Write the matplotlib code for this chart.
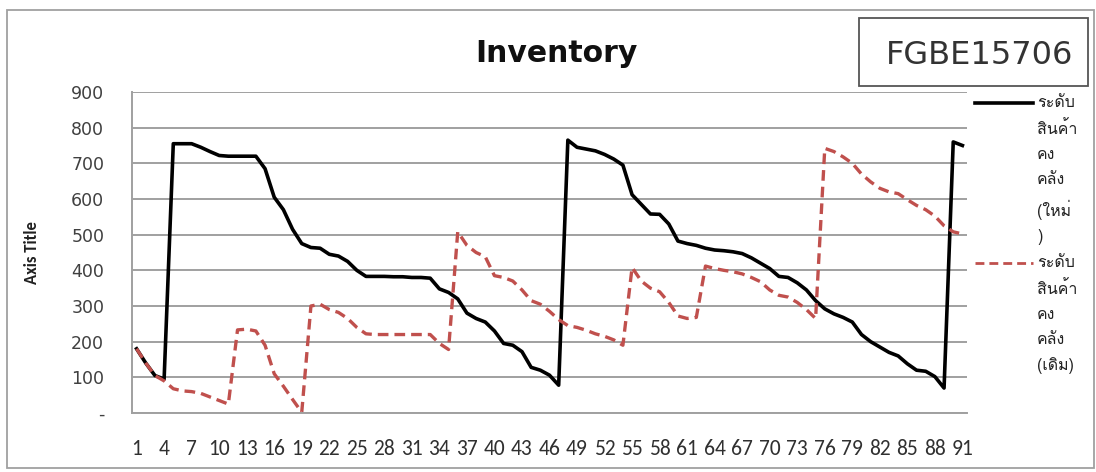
import matplotlib
matplotlib.use("Agg")
import matplotlib.pyplot as plt
from matplotlib import font_manager
from matplotlib.ft2font import FT2Font
from matplotlib.lines import Line2D
from matplotlib.patches import Rectangle

periods = list(range(1, 92))
new_level = [180, 140, 105, 95, 755, 755, 755, 745, 733, 722,
             720, 720, 720, 720, 685, 605, 570, 515, 475, 464,
             462, 445, 440, 425, 400, 383, 383, 383, 382, 382,
             380, 380, 378, 348, 338, 320, 280, 265, 255, 230,
             195, 190, 172, 128, 120, 106, 78, 765, 745, 740,
             735, 725, 712, 695, 612, 585, 558, 557, 530, 482,
             475, 470, 462, 457, 455, 452, 447, 435, 420, 405,
             383, 380, 365, 345, 315, 292, 278, 268, 255, 220,
             200, 185, 170, 160, 138, 120, 117, 102, 70, 760,
             750]
old_level = [180, 140, 105, 90, 68, 62, 60, 55, 45, 35,
             25, 233, 235, 230, 190, 110, 75, 38, 2, 300,
             305, 290, 282, 265, 240, 222, 220, 220, 220, 220,
             220, 220, 220, 195, 178, 508, 470, 450, 438, 385,
             380, 370, 345, 315, 305, 285, 262, 245, 240, 232,
             222, 215, 205, 190, 408, 370, 350, 340, 310, 272,
             265, 268, 412, 405, 400, 396, 390, 380, 368, 345,
             330, 325, 310, 290, 265, 742, 733, 718, 700, 670,
             648, 630, 620, 615, 598, 582, 570, 552, 525, 508,
             502]
x_ticks = list(range(1, 92, 3))
y_ticks = [0, 100, 200, 300, 400, 500, 600, 700, 800, 900]
y_tick_labels = ["-"] + [str(v) for v in y_ticks[1:]]
legend_new = "ระดับ\nสินค้า\nคง\nคลัง\n(ใหม่\n)"
legend_old = "ระดับ\nสินค้า\nคง\nคลัง\n(เดิม)"

# pick a font that has Thai glyphs
thai_fonts = set()
for f in font_manager.fontManager.ttflist:
    try:
        if ord("ร") in FT2Font(f.fname).get_charmap():
            thai_fonts.add(f.name)
    except Exception:
        pass
thai_pick = [n for n in ["Tahoma", "Loma", "Garuda", "Sarabun", "Noto Sans Thai"] if n in thai_fonts]
thai_pick = (thai_pick or sorted(thai_fonts))[:1]
thai_family = thai_pick + ["DejaVu Sans"]

all_names = {f.name for f in font_manager.fontManager.ttflist}
narrow_opts = ["Carlito", "Liberation Sans Narrow", "Roboto Condensed"]
narrow = [n for n in narrow_opts if n in all_names][:1] + ["DejaVu Sans"]

red = "#c0504d"

fig = plt.figure(figsize=(10.96, 4.72), dpi=100)
ax = fig.add_axes([132 / 1096, 1 - 413 / 472, 835 / 1096, 321 / 472])

ax.plot(periods, new_level, color="black", lw=2.6, solid_joinstyle="round")
ax.plot(periods, old_level, color=red, lw=2.4, dashes=(3.2, 1.8))

ax.set_xlim(0.5, 91.5)
ax.set_ylim(0, 900)
ax.set_yticks(y_ticks)
ax.set_yticklabels(y_tick_labels, fontsize=12.5, color="#404040")
ax.set_xticks(x_ticks)
ax.set_xticklabels([str(v) for v in x_ticks], fontsize=15.5, family=narrow, color="#303030")
ax.tick_params(axis="y", length=0, pad=20)
ax.tick_params(axis="x", length=0, pad=19)
ax.grid(axis="y", color="#a0a0a0", lw=1.4)
ax.set_axisbelow(True)
for side in ["top", "right"]:
    ax.spines[side].set_visible(False)
for side in ["left", "bottom"]:
    ax.spines[side].set_color("#a0a0a0")
    ax.spines[side].set_linewidth(1.4)

fig.text(556 / 1096, 1 - 53 / 472, "Inventory", fontsize=21.5, fontweight="bold",
         ha="center", va="center", color="#101010")
fig.text(32 / 1096, 1 - 253 / 472, "Axis Title", fontsize=12, fontweight="bold",
         family=narrow, rotation=90, ha="center", va="center", color="#202020")

# chart border and the code box
fig.add_artist(Rectangle((7 / 1096, 1 - 468 / 472), 1087 / 1096, 458 / 472,
                         transform=fig.transFigure, fill=False, ec="#a0a0a0", lw=1.3))
fig.add_artist(Rectangle((859 / 1096, 1 - 86 / 472), 229 / 1096, 68 / 472,
                         transform=fig.transFigure, fc="white", ec="#555555", lw=1.3))
fig.text(980 / 1096, 1 - 55 / 472, "FGBE15706", fontsize=23, ha="center", va="center",
         color="#333333")

# legend
fig.add_artist(Line2D([975 / 1096, 1033 / 1096], [1 - 103 / 472] * 2,
                      transform=fig.transFigure, color="black", lw=2.6))
fig.add_artist(Line2D([975 / 1096, 1033 / 1096], [1 - 263 / 472] * 2,
                      transform=fig.transFigure, color=red, lw=2.0, dashes=(3.2, 1.8)))
fig.text(1037 / 1096, 1 - 95 / 472, legend_new, fontsize=11.5, va="top", ha="left",
         family=thai_family, linespacing=1.75, color="#222222")
fig.text(1037 / 1096, 1 - 255 / 472, legend_old, fontsize=11.5, va="top", ha="left",
         family=thai_family, linespacing=1.75, color="#222222")

fig.savefig("out.png", dpi=100)
